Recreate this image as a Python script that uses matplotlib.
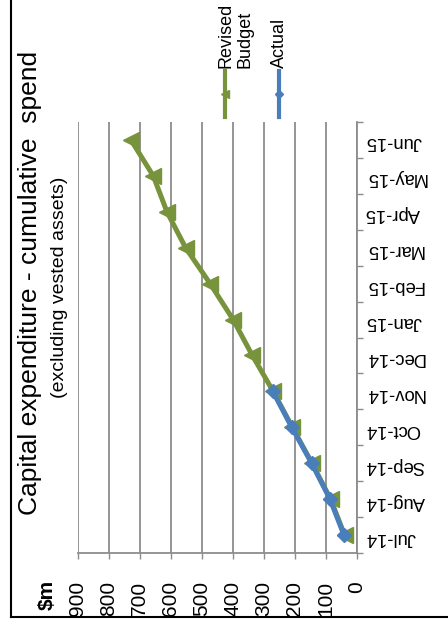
import matplotlib
matplotlib.use('Agg')
import matplotlib.pyplot as plt
from matplotlib.lines import Line2D
import numpy as np

plt.rcParams['font.family'] = ['Liberation Sans', 'DejaVu Sans']

# datos (grafico girado 90 grados)
months = ['Jul-14', 'Aug-14', 'Sep-14', 'Oct-14', 'Nov-14', 'Dec-14',
          'Jan-15', 'Feb-15', 'Mar-15', 'Apr-15', 'May-15', 'Jun-15']
budget = [40, 85, 145, 208, 270, 337, 399, 473, 552, 612, 656, 728]
actual = [42, 87, 146, 210, 271]
value_ticks = [0, 100, 200, 300, 400, 500, 600, 700, 800, 900]

green = '#77933C'
blue = '#4A7EBB'
grey = '#8C8C8C'

W, H = 448, 631
fig = plt.figure(figsize=(W / 100, H / 100), dpi=100)

def fx(px):
    return px / W

def fy(py):
    return 1 - py / H

ax = fig.add_axes([fx(77.5), fy(553), fx(357) - fx(77.5), fy(122) - fy(553)])

pos = np.arange(len(months))
ax.plot(budget, pos, color=green, lw=3.6, marker='<', ms=11, zorder=3)
ax.plot(actual, pos[:len(actual)], color=blue, lw=3.6, marker='D', ms=7, zorder=4)

ax.set_xlim(900, 0)
ax.set_xticks(value_ticks)
ax.set_xticklabels([str(v) for v in value_ticks])
ax.tick_params(axis='x', direction='out', length=4, color=grey, width=1,
               labelsize=15, labelrotation=90, pad=16)
ax.xaxis.grid(True, color=grey, lw=1.3)
ax.set_axisbelow(True)

ax.set_ylim(-0.5, len(months) - 0.5)
ax.yaxis.tick_right()
ax.set_yticks(pos)
ax.set_yticklabels(months, rotation=180)
ax.set_yticks(np.arange(-0.5, len(months), 1), minor=True)
ax.tick_params(axis='y', which='major', length=0, labelsize=13.2, pad=6)
ax.tick_params(axis='y', which='minor', length=4.5, color=grey, width=1)

for s in ['top', 'left']:
    ax.spines[s].set_visible(False)
for s in ['bottom', 'right']:
    ax.spines[s].set_color(grey)
    ax.spines[s].set_linewidth(1.3)

# titulos
fig.text(fx(30), fy(283), 'Capital expenditure - cumulative  spend',
         rotation=90, ha='center', va='center', fontsize=19)
fig.text(fx(59), fy(287), '(excluding vested assets)',
         rotation=90, ha='center', va='center', fontsize=14)
fig.text(fx(47), fy(580), '$m', rotation=90, ha='center', va='top',
         fontsize=15, fontweight='bold')

# leyenda manual
fig.add_artist(Line2D([fx(225), fx(225)], [fy(71), fy(117)], transform=fig.transFigure,
                      color=green, lw=3))
fig.add_artist(Line2D([fx(225)], [fy(94)], transform=fig.transFigure,
                      color=green, marker='<', ms=6, lw=0))
fig.add_artist(Line2D([fx(279), fx(279)], [fy(71), fy(117)], transform=fig.transFigure,
                      color=blue, lw=3))
fig.add_artist(Line2D([fx(279)], [fy(94)], transform=fig.transFigure,
                      color=blue, marker='D', ms=4, lw=0))
fig.text(fx(235.5), fy(68), 'Revised\nBudget', rotation=90, ha='center', va='bottom',
         multialignment='left', fontsize=13)
fig.text(fx(279), fy(68), 'Actual', rotation=90, ha='center', va='bottom', fontsize=13)

# borde
fig.add_artist(Line2D([fx(11), fx(11)], [fy(617), 1.0], transform=fig.transFigure,
                      color='black', lw=1.5))
fig.add_artist(Line2D([fx(11), 1.0], [fy(617), fy(617)], transform=fig.transFigure,
                      color='black', lw=1.5))

fig.savefig('out.png', dpi=100)
